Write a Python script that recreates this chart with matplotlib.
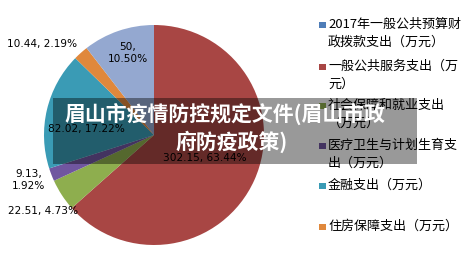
import matplotlib
matplotlib.use("Agg")
import matplotlib.pyplot as plt
from matplotlib.patches import Rectangle

plt.rcParams['font.family'] = ['Noto Sans CJK SC', 'DejaVu Sans']

# ---- data ----
categories = [
    "2017年一般公共预算财政拨款支出（万元）",
    "一般公共服务支出（万元）",
    "社会保障和就业支出（万元）",
    "医疗卫生与计划生育支出（万元）",
    "金融支出（万元）",
    "住房保障支出（万元）",
    "",
]
values = [0, 302.15, 22.51, 9.13, 82.02, 10.44, 50]
title_lines = ["眉山市疫情防控规定文件(眉山市政", "府防疫政策)"]

# legend text as it wraps in the legend column
legend_lines = [
    ["2017年一般公共预算财", "政拨款支出（万元）"],
    ["一般公共服务支出（万", "元）"],
    ["社会保障和就业支出", "（万元）"],
    ["医疗卫生与计划生育支", "出（万元）"],
    ["金融支出（万元）"],
    ["住房保障支出（万元）"],
]

# ---- style ----
colors = ["#4F7DB8", "#A84644", "#8EAE4E", "#7056A0", "#3A9BB5", "#E0883C", "#94A8D0"]
W, H = 473, 261


def py(y):
    """Convert a top-down pixel row into the bottom-up axes coordinate."""
    return H - y


fig = plt.figure(figsize=(W / 100, H / 100), dpi=100)
ax = fig.add_axes([0, 0, 1, 1])

cx, cy, r = 154, 135, 110
wedges, _ = ax.pie(values, colors=colors, startangle=90, counterclock=False,
                   center=(cx, py(cy)), radius=r,
                   wedgeprops=dict(linewidth=0))
ax.set_xlim(0, W)
ax.set_ylim(0, H)
ax.set_aspect('auto')
ax.axis('off')

# data labels: "value, percent"
total = sum(values)
label_pos = [None, (205, 158), (43, 211), (29, 180), (86, 129), (42, 44), (128, 53)]
label_wrap = [False, False, False, True, False, False, True]
for v, pos, wrap in zip(values, label_pos, label_wrap):
    if pos is None:
        continue
    sep = ",\n" if wrap else ", "
    txt = f"{v:g}{sep}{v / total * 100:.2f}%"
    ax.text(pos[0], py(pos[1]), txt, ha='center', va='center',
            fontsize=7.6, family='DejaVu Sans', color='black',
            linespacing=1.25, zorder=3)

# legend column
legend_top = [24, 66, 105, 145, 185, 226]
line_step = 18
for lines, y0, c in zip(legend_lines, legend_top, colors):
    ax.add_patch(Rectangle((319, py(y0 + 4)), 6.5, 6.5, facecolor=c,
                           edgecolor='none', zorder=3))
    for i, line in enumerate(lines):
        ax.text(328, py(y0 + i * line_step), line, ha='left', va='center',
                fontsize=9.4, color='black', zorder=3)

# translucent title banner
ax.add_patch(Rectangle((53, py(164)), 364, 66, facecolor='black',
                       alpha=0.4, edgecolor='none', zorder=5))
ax.text(225, py(114), title_lines[0], ha='center', va='center',
        fontsize=15, fontweight='bold', color='white', zorder=6)
ax.text(232, py(142), title_lines[1], ha='center', va='center',
        fontsize=15, fontweight='bold', color='white', zorder=6)

fig.savefig("out.png", dpi=100, facecolor='white')
